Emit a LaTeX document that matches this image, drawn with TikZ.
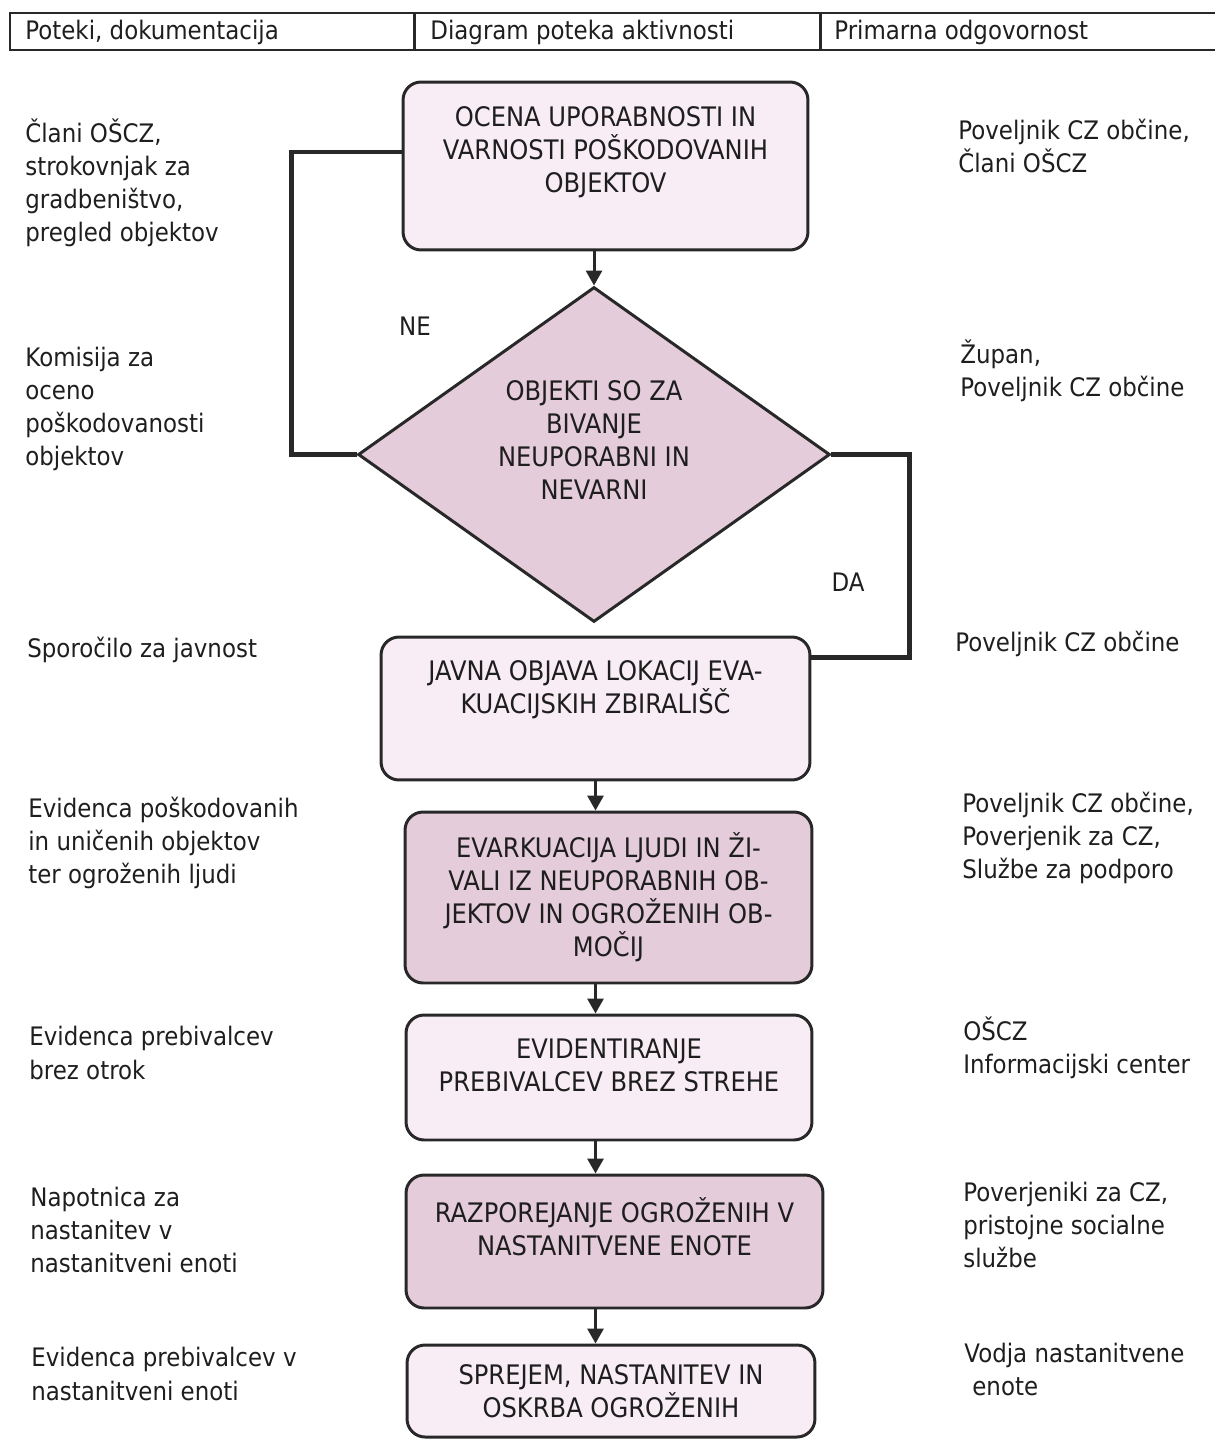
\documentclass[tikz,border=0pt]{standalone}
\usepackage{fontspec}
\setmainfont{DejaVu Sans}[FakeStretch=0.9]
\usetikzlibrary{positioning}
\usetikzlibrary{shapes.geometric, arrows.meta}

\definecolor{boxlight}{RGB}{248,237,244}
\definecolor{boxdark}{RGB}{229,204,219}
\definecolor{linegray}{RGB}{40,40,40}
\definecolor{txtgray}{RGB}{30,30,30}
\newcommand{\flowfont}{\fontsize{14.5}{18.8}\selectfont}
\newcommand{\boxfont}{\fontsize{15.3}{18.8}\selectfont}

\tikzset{
  box/.style={draw=linegray, line width=1.7pt, rounded corners=0.36cm, align=center, inner sep=0pt, font=\boxfont, text=txtgray},
  lightbox/.style={box, fill=boxlight},
  darkbox/.style={box, fill=boxdark},
  decision/.style={diamond, aspect=1.4, draw=linegray, line width=1.7pt, fill=boxdark, align=center, inner sep=0pt, font=\boxfont, text=txtgray},
  coltext/.style={align=left, inner sep=0pt, font=\flowfont, text=txtgray, anchor=west},
  arr/.style={draw=linegray, line width=1.7pt, -{Triangle[length=0.3cm,width=0.32cm]}},
  conn/.style={draw=linegray, line width=2.5pt}
}

\begin{document}
\begin{tikzpicture}[x=0.02cm,y=-0.02cm]
\useasboundingbox (0,0) rectangle (1214,1439);

% header
\draw[line width=1.7pt,linegray] (10,13) rectangle (1230,50);
\draw[line width=1.7pt,linegray] (414,13) -- (414,50);
\draw[line width=1.7pt,linegray] (820,13) -- (820,50);
\node[coltext,anchor=base west] (hleft) at (25,40) {Poteki, dokumentacija};
\node[coltext,anchor=base west] (hmid) at (430,40) {Diagram poteka aktivnosti};
\node[coltext,anchor=base west] (hright) at (834,40) {Primarna odgovornost};

% flow
\node[lightbox, minimum width=8.1cm, minimum height=3.36cm] (ocena) at (605.5,166)
  {OCENA UPORABNOSTI IN\\ VARNOSTI POŠKODOVANIH\\ OBJEKTOV\\ \mbox{}};
\node[decision, minimum width=9.44cm, minimum height=6.7cm] (objekti) at (594,454.5)
  {OBJEKTI SO ZA\\ BIVANJE\\ NEUPORABNI IN\\ NEVARNI\\[-0.08cm] \mbox{}};
\node[lightbox, minimum width=8.58cm, minimum height=2.86cm] (javna) at (595.5,708.5)
  {JAVNA OBJAVA LOKACIJ EVA-\\ KUACIJSKIH ZBIRALIŠČ\\[0.18cm] \mbox{}};
\node[darkbox, minimum width=8.14cm, minimum height=3.42cm] (evak) at (608.5,897.5)
  {EVARKUACIJA LJUDI IN ŽI-\\ VALI IZ NEUPORABNIH OB-\\ JEKTOV IN OGROŽENIH OB-\\ MOČIJ};
\node[lightbox, minimum width=8.12cm, minimum height=2.5cm] (evid) at (609,1077.5)
  {EVIDENTIRANJE\\ PREBIVALCEV BREZ STREHE\\[-0.18cm] \mbox{}};
\node[darkbox, minimum width=8.34cm, minimum height=2.66cm] (razp) at (614.5,1241.5)
  {RAZPOREJANJE OGROŽENIH V\\ NASTANITVENE ENOTE\\[-0.06cm] \mbox{}};
\node[lightbox, minimum width=8.16cm, minimum height=1.84cm] (sprejem) at (611,1391)
  {SPREJEM, NASTANITEV IN\\ OSKRBA OGROŽENIH};

\draw[arr] (objekti.north |- ocena.south) -- (objekti.north);
\draw[arr] (javna.south) -- (javna.south |- evak.north);
\draw[arr] (evak.south -| javna.south) -- (evid.north -| javna.south);
\draw[arr] (evid.south -| javna.south) -- (razp.north -| javna.south);
\draw[arr] (razp.south -| javna.south) -- (sprejem.north -| javna.south);

\draw[conn] (objekti.west) -- ++(-65,0) |- ([yshift=0.28cm]ocena.west);
\draw[conn] (objekti.east) -- ++(78,0) |- ([yshift=1.02cm]javna.east);
\node[font=\flowfont, text=txtgray] (ne) at (415,326) {NE};
\node[font=\flowfont, text=txtgray] (da) at (848,582) {DA};

% left column
\node[coltext] (dok1) at (25,183) {Člani OŠCZ,\\ strokovnjak za\\ gradbeništvo,\\ pregled objektov};
\node[coltext] (dok2) at (25,409) {Komisija za\\ oceno\\ poškodovanosti\\ objektov};
\node[coltext] (dok3) at (27,650) {Sporočilo za javnost};
\node[coltext] (dok4) at (28,843) {Evidenca poškodovanih\\ in uničenih objektov\\ ter ogroženih ljudi};
\node[coltext] (dok5) at (29,1053) {Evidenca prebivalcev\\ brez otrok};
\node[coltext] (dok6) at (30,1230) {Napotnica za\\ nastanitev v\\ nastanitveni enoti};
\node[coltext] (dok7) at (31,1374) {Evidenca prebivalcev v\\ nastanitveni enoti};

% right column
\node[coltext] (odg1) at (958,146) {Poveljnik CZ občine,\\ Člani OŠCZ};
\node[coltext] (odg2) at (960,370.5) {Župan,\\ Poveljnik CZ občine};
\node[coltext] (odg3) at (955,644) {Poveljnik CZ občine};
\node[coltext] (odg4) at (962,838) {Poveljnik CZ občine,\\ Poverjenik za CZ,\\ Službe za podporo};
\node[coltext] (odg5) at (963,1047.5) {OŠCZ\\ Informacijski center};
\node[coltext] (odg6) at (963,1225) {Poverjeniki za CZ,\\ pristojne socialne\\ službe};
\node[coltext] (odg7) at (964,1369.5) {Vodja nastanitvene\\ \hspace*{0.16cm}enote};

\end{tikzpicture}
\end{document}
